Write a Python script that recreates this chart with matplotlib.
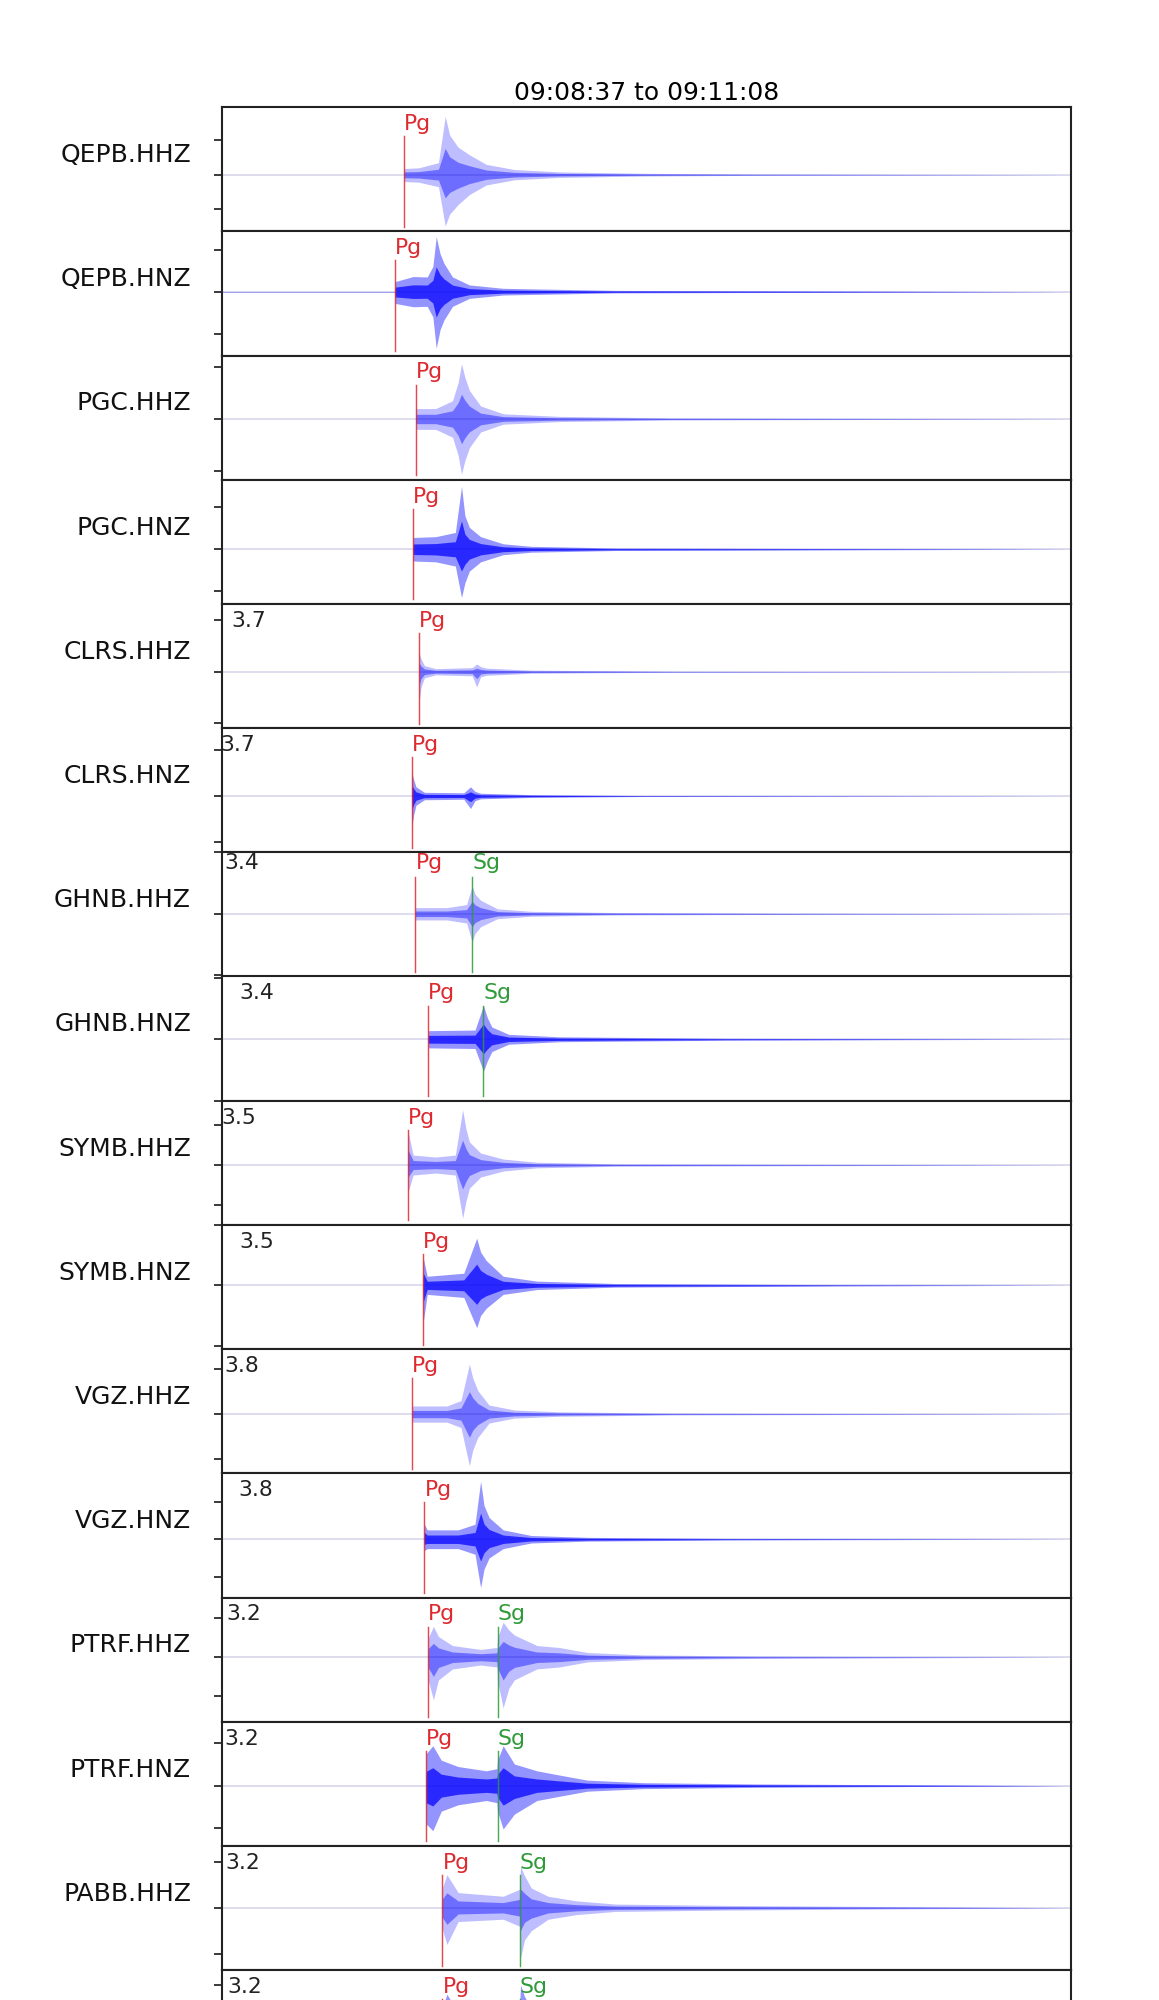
import matplotlib
matplotlib.use("Agg")
import matplotlib.pyplot as plt
import numpy as np

# ---------------- data ----------------
title = "09:08:37 to 09:11:08"
duration = 151.0  # seconds shown

stations = ["QEPB.HHZ", "QEPB.HNZ", "PGC.HHZ", "PGC.HNZ", "CLRS.HHZ", "CLRS.HNZ",
            "GHNB.HHZ", "GHNB.HNZ", "SYMB.HHZ", "SYMB.HNZ", "VGZ.HHZ", "VGZ.HNZ",
            "PTRF.HHZ", "PTRF.HNZ", "PABB.HHZ", "PABB.HNZ"]
magnitudes = [None, None, None, None, 3.7, 3.7, 3.4, 3.4, 3.5, 3.5, 3.8, 3.8,
              3.2, 3.2, 3.2, 3.2]
pg_times = [32.4, 30.8, 34.5, 34.0, 35.1, 33.8, 34.4, 36.7, 33.1, 35.8, 33.8, 36.0,
            36.7, 36.3, 39.2, 39.2]
sg_times = [None, None, None, None, None, None, 44.5, 46.5, None, None, None, None,
            49.0, 49.0, 53.0, 53.0]
ylim_lo = [-1.652, -1.521, -1.167, -1.302, -1.099, -1.214, -1.020, -0.830,
           -1.497, -1.055, -1.318, -1.553, -1.653, -1.418, -1.357, -1.378]
ylim_hi = [1.971, 1.438, 1.220, 1.657, 1.322, 1.466, 0.658, 1.022,
           1.609, 0.917, 1.445, 1.758, 1.532, 1.506, 1.346, 1.324]

# envelopes (time s, upper, lower)
qepb_hhz_t = [0, 32.3, 32.4, 35, 38.5, 39.7, 40.5, 42, 44, 47, 52, 60, 75, 95, 151]
qepb_hhz_hi = [0.0, 0.0, 0.18, 0.2, 0.35, 1.7, 1.15, 0.8, 0.58, 0.3, 0.15, 0.08, 0.04, 0.02, 0.0]
qepb_hhz_lo = [0.0, 0.0, -0.2, -0.22, -0.35, -1.5, -1.15, -0.87, -0.58, -0.3, -0.15, -0.08, -0.04, -0.02, 0.0]

qepb_hnz_t = [0, 30.7, 30.8, 34, 36.5, 37.5, 38.1, 38.8, 39.5, 41, 44, 50, 70, 151]
qepb_hnz_hi = [0.005, 0.005, 0.24, 0.36, 0.35, 0.6, 1.31, 0.9, 0.67, 0.35, 0.16, 0.08, 0.03, 0.0]
qepb_hnz_lo = [-0.005, -0.005, -0.28, -0.36, -0.35, -0.6, -1.35, -0.9, -0.67, -0.35, -0.16, -0.08, -0.03, 0.0]

pgc_hhz_t = [0, 34.4, 34.5, 38, 41, 42, 42.6, 43.2, 44, 46, 50, 60, 80, 151]
pgc_hhz_hi = [0.0, 0.0, 0.2, 0.2, 0.35, 0.7, 1.06, 0.8, 0.55, 0.25, 0.1, 0.05, 0.02, 0.0]
pgc_hhz_lo = [0.0, 0.0, -0.2, -0.2, -0.35, -0.7, -1.06, -0.8, -0.55, -0.25, -0.1, -0.05, -0.02, 0.0]

pgc_hnz_t = [0, 33.9, 34.0, 38, 41.5, 42.6, 43.2, 44, 46, 50, 55, 70, 151]
pgc_hnz_hi = [0.0, 0.0, 0.28, 0.3, 0.4, 1.5, 0.8, 0.52, 0.3, 0.13, 0.07, 0.03, 0.0]
pgc_hnz_lo = [0.0, 0.0, -0.28, -0.3, -0.4, -1.15, -0.8, -0.52, -0.3, -0.13, -0.07, -0.03, 0.0]

clrs_hhz_t = [0, 35.0, 35.1, 35.4, 36, 38, 44.5, 45.3, 46, 47, 55, 80, 151]
clrs_hhz_hi = [0.0, 0.0, 0.35, 0.25, 0.12, 0.06, 0.08, 0.15, 0.1, 0.07, 0.03, 0.01, 0.0]
clrs_hhz_lo = [0.0, 0.0, -0.55, -0.3, -0.12, -0.06, -0.08, -0.3, -0.1, -0.07, -0.03, -0.01, 0.0]

clrs_hnz_t = [0, 33.7, 33.8, 34.1, 34.5, 36, 43, 44.2, 45, 46, 55, 75, 151]
clrs_hnz_hi = [0.0, 0.0, 0.5, 0.35, 0.2, 0.08, 0.07, 0.2, 0.1, 0.06, 0.03, 0.01, 0.0]
clrs_hnz_lo = [0.0, 0.0, -0.63, -0.4, -0.2, -0.08, -0.07, -0.27, -0.1, -0.06, -0.03, -0.01, 0.0]

ghnb_hhz_t = [0, 34.3, 34.4, 40, 43.5, 44.5, 45, 46, 49, 55, 70, 100, 151]
ghnb_hhz_hi = [0.0, 0.0, 0.1, 0.1, 0.15, 0.45, 0.32, 0.22, 0.08, 0.04, 0.02, 0.01, 0.0]
ghnb_hhz_lo = [0.0, 0.0, -0.1, -0.1, -0.15, -0.46, -0.32, -0.21, -0.08, -0.04, -0.02, -0.01, 0.0]

ghnb_hnz_t = [0, 36.6, 36.7, 45, 46.5, 47.2, 48, 51, 60, 90, 151]
ghnb_hnz_hi = [0.0, 0.0, 0.14, 0.15, 0.55, 0.35, 0.2, 0.08, 0.04, 0.015, 0.0]
ghnb_hnz_lo = [0.0, 0.0, -0.14, -0.15, -0.52, -0.35, -0.2, -0.08, -0.04, -0.015, 0.0]

symb_hhz_t = [0, 33.0, 33.1, 34, 38, 41.5, 42.8, 43.4, 44, 46, 50, 56, 70, 151]
symb_hhz_hi = [0.0, 0.0, 0.83, 0.25, 0.2, 0.25, 1.38, 0.9, 0.58, 0.3, 0.15, 0.07, 0.03, 0.0]
symb_hhz_lo = [0.0, 0.0, -0.67, -0.25, -0.2, -0.25, -1.33, -0.9, -0.58, -0.3, -0.15, -0.07, -0.03, 0.0]

symb_hnz_t = [0, 35.7, 35.8, 36.5, 43, 45.3, 46, 47, 50, 56, 70, 110, 151]
symb_hnz_hi = [0.0, 0.0, 0.45, 0.15, 0.2, 0.78, 0.55, 0.41, 0.15, 0.07, 0.03, 0.01, 0.0]
symb_hnz_lo = [0.0, 0.0, -0.6, -0.15, -0.2, -0.7, -0.5, -0.38, -0.15, -0.07, -0.03, -0.01, 0.0]

vgz_hhz_t = [0, 33.7, 33.8, 40, 42.5, 44.0, 44.6, 45.5, 47.5, 52, 60, 80, 151]
vgz_hhz_hi = [0.0, 0.0, 0.18, 0.18, 0.3, 1.11, 0.8, 0.52, 0.2, 0.09, 0.05, 0.02, 0.0]
vgz_hhz_lo = [0.0, 0.0, -0.18, -0.18, -0.3, -1.15, -0.8, -0.52, -0.2, -0.09, -0.05, -0.02, 0.0]

vgz_hnz_t = [0, 35.9, 36.0, 36.5, 42, 45, 46.0, 46.6, 47.5, 50, 55, 65, 90, 151]
vgz_hnz_hi = [0.0, 0.0, 0.4, 0.25, 0.25, 0.4, 1.55, 0.9, 0.58, 0.25, 0.1, 0.05, 0.02, 0.0]
vgz_hnz_lo = [0.0, 0.0, -0.3, -0.25, -0.25, -0.4, -1.29, -0.8, -0.5, -0.25, -0.1, -0.05, -0.02, 0.0]

ptrf_hhz_t = [0, 36.6, 36.7, 37.6, 38.5, 41, 46, 48.9, 49.0, 50, 51, 52, 56, 60, 65, 75, 95, 151]
ptrf_hhz_hi = [0.0, 0.0, 0.5, 0.79, 0.53, 0.3, 0.2, 0.25, 0.5, 0.9, 0.7, 0.57, 0.3, 0.25, 0.12, 0.06, 0.03, 0.0]
ptrf_hhz_lo = [0.0, 0.0, -0.6, -1.09, -0.58, -0.3, -0.2, -0.25, -0.6, -1.3, -0.8, -0.58, -0.3, -0.25, -0.12, -0.06, -0.03, 0.0]

ptrf_hnz_t = [0, 36.2, 36.3, 37.5, 39, 42, 47, 48.9, 49.0, 50, 52, 56, 60, 65, 75, 95, 130, 151]
ptrf_hnz_hi = [0.0, 0.0, 0.75, 0.94, 0.6, 0.45, 0.35, 0.4, 0.6, 0.94, 0.51, 0.35, 0.25, 0.13, 0.07, 0.04, 0.015, 0.0]
ptrf_hnz_lo = [0.0, 0.0, -0.9, -1.06, -0.6, -0.45, -0.35, -0.4, -0.6, -1.02, -0.67, -0.35, -0.25, -0.13, -0.07, -0.04, -0.015, 0.0]

pabb_hhz_t = [0, 39.1, 39.2, 40.0, 42, 50, 52.9, 53.1, 53.8, 55, 58, 63, 70, 90, 151]
pabb_hhz_hi = [0.0, 0.0, 0.43, 0.72, 0.33, 0.25, 0.4, 0.9, 0.7, 0.43, 0.25, 0.15, 0.08, 0.05, 0.0]
pabb_hhz_lo = [0.0, 0.0, -0.47, -0.8, -0.3, -0.25, -0.4, -1.09, -0.7, -0.5, -0.25, -0.15, -0.08, -0.05, 0.0]

pabb_hnz_t = [0, 39.1, 39.2, 40.0, 42, 50, 52.9, 53.1, 53.8, 55, 58, 63, 70, 90, 151]
pabb_hnz_hi = [0.0, 0.0, 0.5, 0.8, 0.4, 0.3, 0.45, 1.0, 0.75, 0.5, 0.3, 0.18, 0.1, 0.05, 0.0]
pabb_hnz_lo = [0.0, 0.0, -0.5, -0.85, -0.4, -0.3, -0.45, -1.05, -0.75, -0.5, -0.3, -0.18, -0.1, -0.05, 0.0]

traces = [
    (qepb_hhz_t, qepb_hhz_hi, qepb_hhz_lo), (qepb_hnz_t, qepb_hnz_hi, qepb_hnz_lo),
    (pgc_hhz_t, pgc_hhz_hi, pgc_hhz_lo), (pgc_hnz_t, pgc_hnz_hi, pgc_hnz_lo),
    (clrs_hhz_t, clrs_hhz_hi, clrs_hhz_lo), (clrs_hnz_t, clrs_hnz_hi, clrs_hnz_lo),
    (ghnb_hhz_t, ghnb_hhz_hi, ghnb_hhz_lo), (ghnb_hnz_t, ghnb_hnz_hi, ghnb_hnz_lo),
    (symb_hhz_t, symb_hhz_hi, symb_hhz_lo), (symb_hnz_t, symb_hnz_hi, symb_hnz_lo),
    (vgz_hhz_t, vgz_hhz_hi, vgz_hhz_lo), (vgz_hnz_t, vgz_hnz_hi, vgz_hnz_lo),
    (ptrf_hhz_t, ptrf_hhz_hi, ptrf_hhz_lo), (ptrf_hnz_t, ptrf_hnz_hi, ptrf_hnz_lo),
    (pabb_hhz_t, pabb_hhz_hi, pabb_hhz_lo), (pabb_hnz_t, pabb_hnz_hi, pabb_hnz_lo),
]

# ---------------- layout (pixels) ----------------
W, H, DPI = 1159, 2000, 150
ax_left, ax_right = 222, 1071
ax_top0, panel_h = 107.1, 124.2
mag_dx_px = [0, 0, 0, 0, 9, -2, 2, 17, -1, 17, 2, 16, 4, 2, 3, 5]
text_dy_px = [7, 7, 7, 7, 7, 7, 1, 7, 7, 7, 7, 7, 7, 7, 7, 7]
pick_top = [0.765] * 16
pick_top[6] = 0.80
label_frac = 0.615

RED = "#dc2a30"
GREEN = "#2e9a38"

fig = plt.figure(figsize=(W / DPI, H / DPI), dpi=DPI)

for i, name in enumerate(stations):
    top = ax_top0 + panel_h * i
    bottom_frac = 1 - (top + panel_h) / H
    ax = fig.add_axes([ax_left / W, bottom_frac, (ax_right - ax_left) / W, panel_h / H])
    t, hi, lo = traces[i]
    t = np.asarray(t); hi = np.asarray(hi); lo = np.asarray(lo)
    strong = name.endswith("HNZ")
    ax.axhline(0, color=(0.86, 0.86, 0.93), lw=0.9, zorder=1)
    ax.fill_between(t, lo, hi, color="blue", alpha=0.42 if strong else 0.26, lw=0, zorder=2)
    ax.fill_between(t, lo * 0.45, hi * 0.45, color="blue", alpha=0.72 if strong else 0.42,
                    lw=0, zorder=3)
    ax.set_xlim(0, duration)
    ax.set_ylim(ylim_lo[i], ylim_hi[i])
    ax.set_yticks([-1, 0, 1])
    ax.set_yticklabels([])
    ax.set_xticks([])
    ax.tick_params(axis="y", direction="out", length=4, width=0.9, color="#333333")
    for sp in ax.spines.values():
        sp.set_linewidth(1.0)
        sp.set_color("#222222")

    # station label (only drawn when it falls on the canvas)
    label_y_px = top + panel_h * (1 - label_frac)
    if label_y_px + 15 < H:
        ax.annotate(name, xy=(0, label_frac), xycoords="axes fraction", xytext=(-31, 0),
                    textcoords="offset pixels", ha="right", va="center", fontsize=12,
                    color="#111111")
    # magnitude
    if magnitudes[i] is not None:
        ax.annotate(f"{magnitudes[i]}", xy=(0, 1), xycoords="axes fraction",
                    xytext=(mag_dx_px[i], -text_dy_px[i]), textcoords="offset pixels",
                    ha="left", va="top", fontsize=10.5, color="#222222")
    # picks
    trans = ax.get_xaxis_transform()
    ax.axvline(pg_times[i], ymin=0.037, ymax=pick_top[i], color=RED, lw=0.7,
               alpha=0.85, zorder=4)
    ax.annotate("Pg", xy=(pg_times[i], 1), xycoords=trans, xytext=(0, -text_dy_px[i]),
                textcoords="offset pixels", ha="left", va="top", fontsize=10.5, color=RED)
    if sg_times[i] is not None:
        ax.axvline(sg_times[i], ymin=0.037, ymax=pick_top[i], color=GREEN, lw=0.7,
                   alpha=0.85, zorder=4)
        ax.annotate("Sg", xy=(sg_times[i], 1), xycoords=trans, xytext=(0, -text_dy_px[i]),
                    textcoords="offset pixels", ha="left", va="top", fontsize=10.5,
                    color=GREEN)
    if i == 0:
        ax.set_title(title, fontsize=12, pad=3.6)

fig.savefig("out.png", dpi=DPI)
